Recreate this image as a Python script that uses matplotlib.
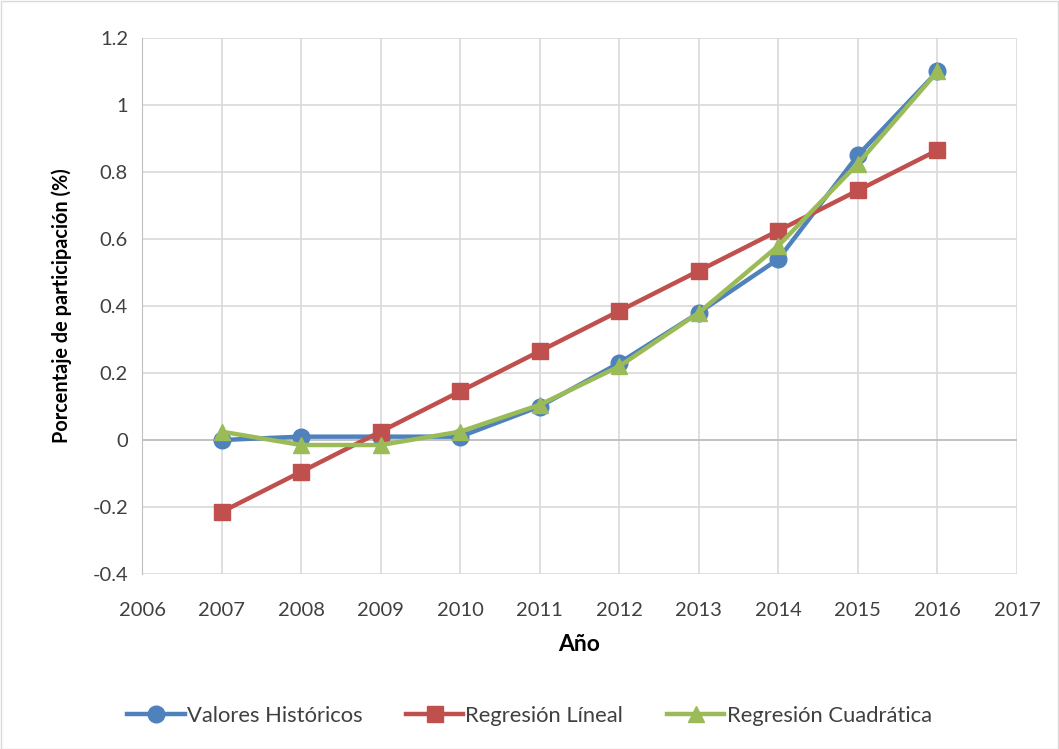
import numpy as np
import matplotlib.pyplot as plt
from matplotlib.patches import Rectangle

# ---- Data ----
years = [2007, 2008, 2009, 2010, 2011, 2012, 2013, 2014, 2015, 2016]
historicos = [0.0, 0.01, 0.01, 0.01, 0.10, 0.23, 0.38, 0.54, 0.85, 1.10]
lineal = [-0.215, -0.095, 0.025, 0.145, 0.265, 0.385, 0.505, 0.625, 0.745, 0.865]
cuadratica = [0.025, -0.015, -0.015, 0.025, 0.105, 0.22, 0.38, 0.58, 0.825, 1.10]

xticks = list(range(2006, 2018))
yticks = [-0.4, -0.2, 0, 0.2, 0.4, 0.6, 0.8, 1, 1.2]
ytick_labels = ["-0.4", "-0.2", "0", "0.2", "0.4", "0.6", "0.8", "1", "1.2"]

plt.rcParams['font.family'] = ['Lato', 'DejaVu Sans']

W, H = 1059, 749
fig = plt.figure(figsize=(W / 100, H / 100), dpi=100)
ax = fig.add_axes([142 / W, 1 - 574 / H, (1017 - 142) / W, (574 - 38) / H])

# outer chart border
fig.patches.append(Rectangle((0.5 / W, 0.5 / H), 1 - 1.5 / W, 1 - 1.5 / H,
                             transform=fig.transFigure, fill=False,
                             edgecolor='#D9D9D9', linewidth=1))

ax.plot(years, historicos, color='#4F81BD', lw=3.2, marker='o', ms=12,
        label='Valores Históricos', zorder=3)
ax.plot(years, lineal, color='#C0504D', lw=3.2, marker='s', ms=11,
        label='Regresión Líneal', zorder=4)
ax.plot(years, cuadratica, color='#9BBB59', lw=3.2, marker='^', ms=12,
        label='Regresión Cuadrática', zorder=5)

ax.set_xlim(2006, 2017)
ax.set_ylim(-0.4, 1.2)
ax.set_xticks(xticks)
ax.set_yticks(yticks)
ax.set_yticklabels(ytick_labels)
ax.grid(True, color='#D9D9D9', lw=1.2)
ax.set_axisbelow(True)
ax.axhline(0, color='#BFBFBF', lw=1.3, zorder=1)
for s in ['top', 'right', 'bottom']:
    ax.spines[s].set_visible(False)
ax.spines['left'].set_color('#BFBFBF')
ax.tick_params(length=0, labelsize=14.5, colors='#404040')
ax.tick_params(axis='x', pad=20)
ax.tick_params(axis='y', pad=10)

ax.set_xlabel('Año', fontsize=16.5, fontweight='bold', labelpad=11)
ax.set_ylabel('Porcentaje de participación (%)', fontsize=14.3, fontweight='bold', labelpad=15)

fig.legend(loc='center', bbox_to_anchor=(0.5, 1 - 716 / H), ncol=3, frameon=False,
           fontsize=15.8, handlelength=2.6, columnspacing=2.0, handletextpad=0.1,
           labelcolor='#404040')

fig.savefig('out.png', dpi=100)
